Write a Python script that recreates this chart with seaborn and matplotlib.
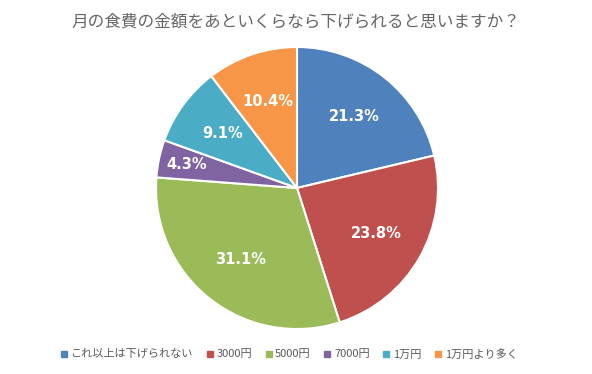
import matplotlib
matplotlib.use("Agg")
import matplotlib.pyplot as plt
import numpy as np
import seaborn as sns

# chart data
categories = ["これ以上は下げられない", "3000円", "5000円", "7000円", "1万円", "1万円より多く"]
shares = [21.3, 23.8, 31.1, 4.3, 9.1, 10.4]
colors = ["#4F81BD", "#C0504D", "#9BBB59", "#8064A2", "#4BACC6", "#F79646"]
title = "月の食費の金額をあといくらなら下げられると思いますか？"

sns.set_theme(style="white")
plt.rcParams['font.family'] = ['Noto Sans CJK JP', 'DejaVu Sans']

fig = plt.figure(figsize=(5.92, 3.74), dpi=100)
fig.patch.set_facecolor("white")

# pie centre ~ (297, 188) px, radius ~141 px
r_px = 141
ax = fig.add_axes([(297 - r_px) / 592, (374 - 188 - r_px) / 374, 2 * r_px / 592, 2 * r_px / 374])

wedges, texts, autotexts = ax.pie(
    shares, colors=colors, startangle=90, counterclock=False,
    autopct=lambda p: f"{p:.1f}%", pctdistance=0.65,
    wedgeprops=dict(edgecolor="white", linewidth=1.5),
    textprops=dict(color="white", fontsize=10.5, fontweight="bold", family="DejaVu Sans"),
)

# small slices get their label pushed further out, like Excel does
for w, t, s in zip(wedges, autotexts, shares):
    if s < 6:
        ang = np.deg2rad((w.theta1 + w.theta2) / 2)
        t.set_position((0.8 * np.cos(ang), 0.8 * np.sin(ang)))

ax.set_xlim(-1, 1)
ax.set_ylim(-1, 1)
ax.set_aspect("equal")
ax.axis("off")

fig.text(0.5, 1 - 22 / 374, title, ha="center", va="center", fontsize=12, color="#666666")

handles = [plt.Line2D([0], [0], marker="s", linestyle="", markersize=5,
                      markerfacecolor=c, markeredgecolor=c) for c in colors]
fig.legend(handles, categories, loc="center", bbox_to_anchor=(288 / 592, 1 - 354 / 374),
           ncol=6, frameon=False, fontsize=8, handletextpad=0.1, columnspacing=1.0,
           labelcolor="#595959", handlelength=1.0)

fig.savefig("out.png", dpi=100, facecolor="white")
